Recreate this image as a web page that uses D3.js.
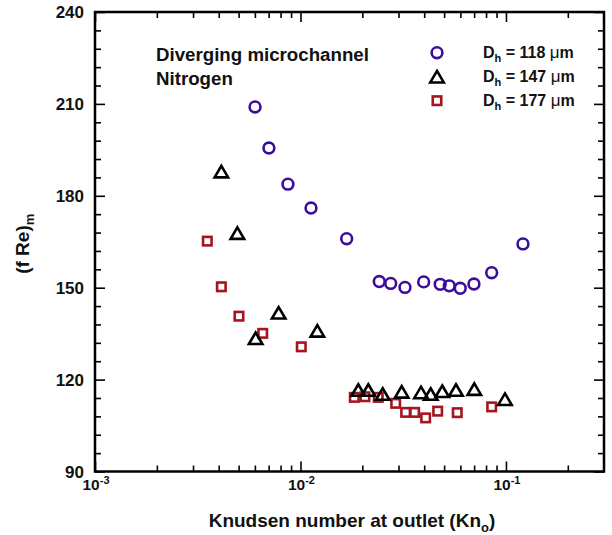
<!DOCTYPE html>
<html>
<head>
<meta charset="utf-8">
<script src="https://cdn.jsdelivr.net/npm/d3@7/dist/d3.min.js"></script>
<style>
  html, body { margin: 0; padding: 0; background: #fff; }
  svg { display: block; }
  text { font-family: Arial, "Liberation Sans", sans-serif; font-weight: bold; fill: #111; }
</style>
</head>
<body>
<svg id="chart" width="612" height="535"></svg>
<script>
// Friction constant (f Re)_m vs outlet Knudsen number, diverging microchannel, nitrogen
const kn118 = [0.00601, 0.00702, 0.00869, 0.01125, 0.01678, 0.02418, 0.02748, 0.03225, 0.03977, 0.04786, 0.05297, 0.05991, 0.06986, 0.0852, 0.121];
const fre118 = [209.0, 195.6, 183.8, 176.0, 166.0, 152.0, 151.4, 150.1, 151.9, 151.1, 150.6, 149.8, 151.2, 154.9, 164.3];

const kn147 = [0.00412, 0.00493, 0.00605, 0.00783, 0.01208, 0.01911, 0.02138, 0.02512, 0.03109, 0.03859, 0.04302, 0.04898, 0.05711, 0.07013, 0.0989];
const fre147 = [187.9, 167.8, 133.5, 141.8, 135.9, 116.6, 116.6, 115.3, 116.0, 115.8, 115.3, 116.2, 116.6, 116.9, 113.6];

const kn177 = [0.00352, 0.00412, 0.00502, 0.00655, 0.01009, 0.01828, 0.0206, 0.0239, 0.02906, 0.0325, 0.03594, 0.04066, 0.04652, 0.05794, 0.0852];
const fre177 = [165.2, 150.3, 140.7, 135.1, 130.7, 114.2, 114.4, 114.2, 112.25, 109.3, 109.3, 107.5, 109.7, 109.2, 111.1];

const seriesNames = ["118", "147", "177"];
const yTicks = [90, 120, 150, 180, 210, 240];
const xTickExponents = [-3, -2, -1];

const svg = d3.select("#chart");
const plotL = 95, plotR = 604, plotT = 12, plotB = 471.5;

const x = d3.scaleLog().domain([0.001, 0.3]).range([plotL, plotR]);
const y = d3.scaleLinear().domain([90, 240]).range([plotB, plotT]);

const purple = "#3d0c9c", red = "#a3161d", black = "#000";

// Axes with inward ticks on all four sides
const xMajor = xTickExponents.map(e => Math.pow(10, e));
const xMinor = [];
xTickExponents.forEach(e => { for (let k = 2; k <= 9; k++) { const v = k * Math.pow(10, e); if (v < 0.3) xMinor.push(v); } });
const yMinor = d3.range(90, 241, 6).filter(v => v % 30 !== 0);

const axG = svg.append("g");
axG.append("g").attr("transform", `translate(0,${plotB})`)
  .call(d3.axisTop(x).tickValues(xMajor).tickSize(10).tickFormat(""));
axG.append("g").attr("transform", `translate(0,${plotB})`)
  .call(d3.axisTop(x).tickValues(xMinor).tickSize(6).tickFormat(""));
axG.append("g").attr("transform", `translate(0,${plotT})`)
  .call(d3.axisBottom(x).tickValues(xMajor).tickSize(10).tickFormat(""));
axG.append("g").attr("transform", `translate(0,${plotT})`)
  .call(d3.axisBottom(x).tickValues(xMinor).tickSize(6).tickFormat(""));
axG.append("g").attr("transform", `translate(${plotL},0)`)
  .call(d3.axisRight(y).tickValues(yTicks).tickSize(10).tickFormat(""));
axG.append("g").attr("transform", `translate(${plotL},0)`)
  .call(d3.axisRight(y).tickValues(yMinor).tickSize(6).tickFormat(""));
axG.append("g").attr("transform", `translate(${plotR},0)`)
  .call(d3.axisLeft(y).tickValues(yTicks).tickSize(10).tickFormat(""));
axG.append("g").attr("transform", `translate(${plotR},0)`)
  .call(d3.axisLeft(y).tickValues(yMinor).tickSize(6).tickFormat(""));
axG.selectAll(".domain").remove();
axG.selectAll(".tick line").attr("stroke", "#000").attr("stroke-width", 1.6);

svg.append("rect")
  .attr("x", plotL).attr("y", plotT)
  .attr("width", plotR - plotL).attr("height", plotB - plotT)
  .attr("fill", "none").attr("stroke", "#000").attr("stroke-width", 2.5);

// Tick labels
yTicks.forEach(v => {
  svg.append("text").attr("x", plotL - 11).attr("y", y(v) + 6)
    .attr("text-anchor", "end").style("font-size", "17px").text(v);
});
xTickExponents.forEach(e => {
  const t = svg.append("text").attr("x", x(Math.pow(10, e)) + 1).attr("y", 490)
    .attr("text-anchor", "middle").style("font-size", "15.5px");
  t.append("tspan").text("10");
  t.append("tspan").attr("dy", -6).style("font-size", "11px").text("-" + Math.abs(e));
});

// Axis titles
const xt = svg.append("text").attr("x", 352).attr("y", 527)
  .attr("text-anchor", "middle").style("font-size", "19px");
xt.append("tspan").text("Knudsen number at outlet (Kn");
xt.append("tspan").attr("dy", 5).style("font-size", "13px").text("o");
xt.append("tspan").attr("dy", -5).text(")");

const yt = svg.append("text").attr("transform", `translate(29,${(plotT + plotB) / 2 + 2}) rotate(-90)`)
  .attr("text-anchor", "middle").style("font-size", "19px");
yt.append("tspan").text("(f Re)");
yt.append("tspan").attr("dy", 5).style("font-size", "13px").text("m");

// Annotation
svg.append("text").attr("x", 156).attr("y", 61).style("font-size", "18.7px").text("Diverging microchannel");
svg.append("text").attr("x", 156).attr("y", 85).style("font-size", "18.7px").text("Nitrogen");

// Marker drawing
function drawCircle(g, cx, cy) {
  g.append("circle").attr("cx", cx).attr("cy", cy).attr("r", 5.4)
    .attr("fill", "none").attr("stroke", purple).attr("stroke-width", 2.6);
}
function drawTriangle(g, cx, cy) {
  const h = 11.5, w = 13.5;
  g.append("path")
    .attr("d", `M${cx},${cy - h / 2}L${cx + w / 2},${cy + h / 2}L${cx - w / 2},${cy + h / 2}Z`)
    .attr("fill", "none").attr("stroke", black).attr("stroke-width", 2.6).attr("stroke-linejoin", "miter");
}
function drawSquare(g, cx, cy) {
  const s = 8.5;
  g.append("rect").attr("x", cx - s / 2).attr("y", cy - s / 2).attr("width", s).attr("height", s)
    .attr("fill", "none").attr("stroke", red).attr("stroke-width", 2.6);
}

const pts = svg.append("g");
kn177.forEach((k, i) => drawSquare(pts, x(k), y(fre177[i])));
kn147.forEach((k, i) => drawTriangle(pts, x(k), y(fre147[i])));
kn118.forEach((k, i) => drawCircle(pts, x(k), y(fre118[i])));

// Legend
const legend = svg.append("g");
const drawers = [drawCircle, drawTriangle, drawSquare];
seriesNames.forEach((n, i) => {
  const ly = 52.7 + i * 24;
  drawers[i](legend, 437, ly);
  const t = legend.append("text").attr("x", 483).attr("y", ly + 5).style("font-size", "16px");
  t.append("tspan").text("D");
  t.append("tspan").attr("dy", 4).style("font-size", "11px").text("h");
  t.append("tspan").attr("dy", -4).text(" = " + n + " ");
  t.append("tspan").style("font-weight", "normal").style("font-size", "17px").text("\u03bc");
  t.append("tspan").text("m");
});
</script>
</body>
</html>
